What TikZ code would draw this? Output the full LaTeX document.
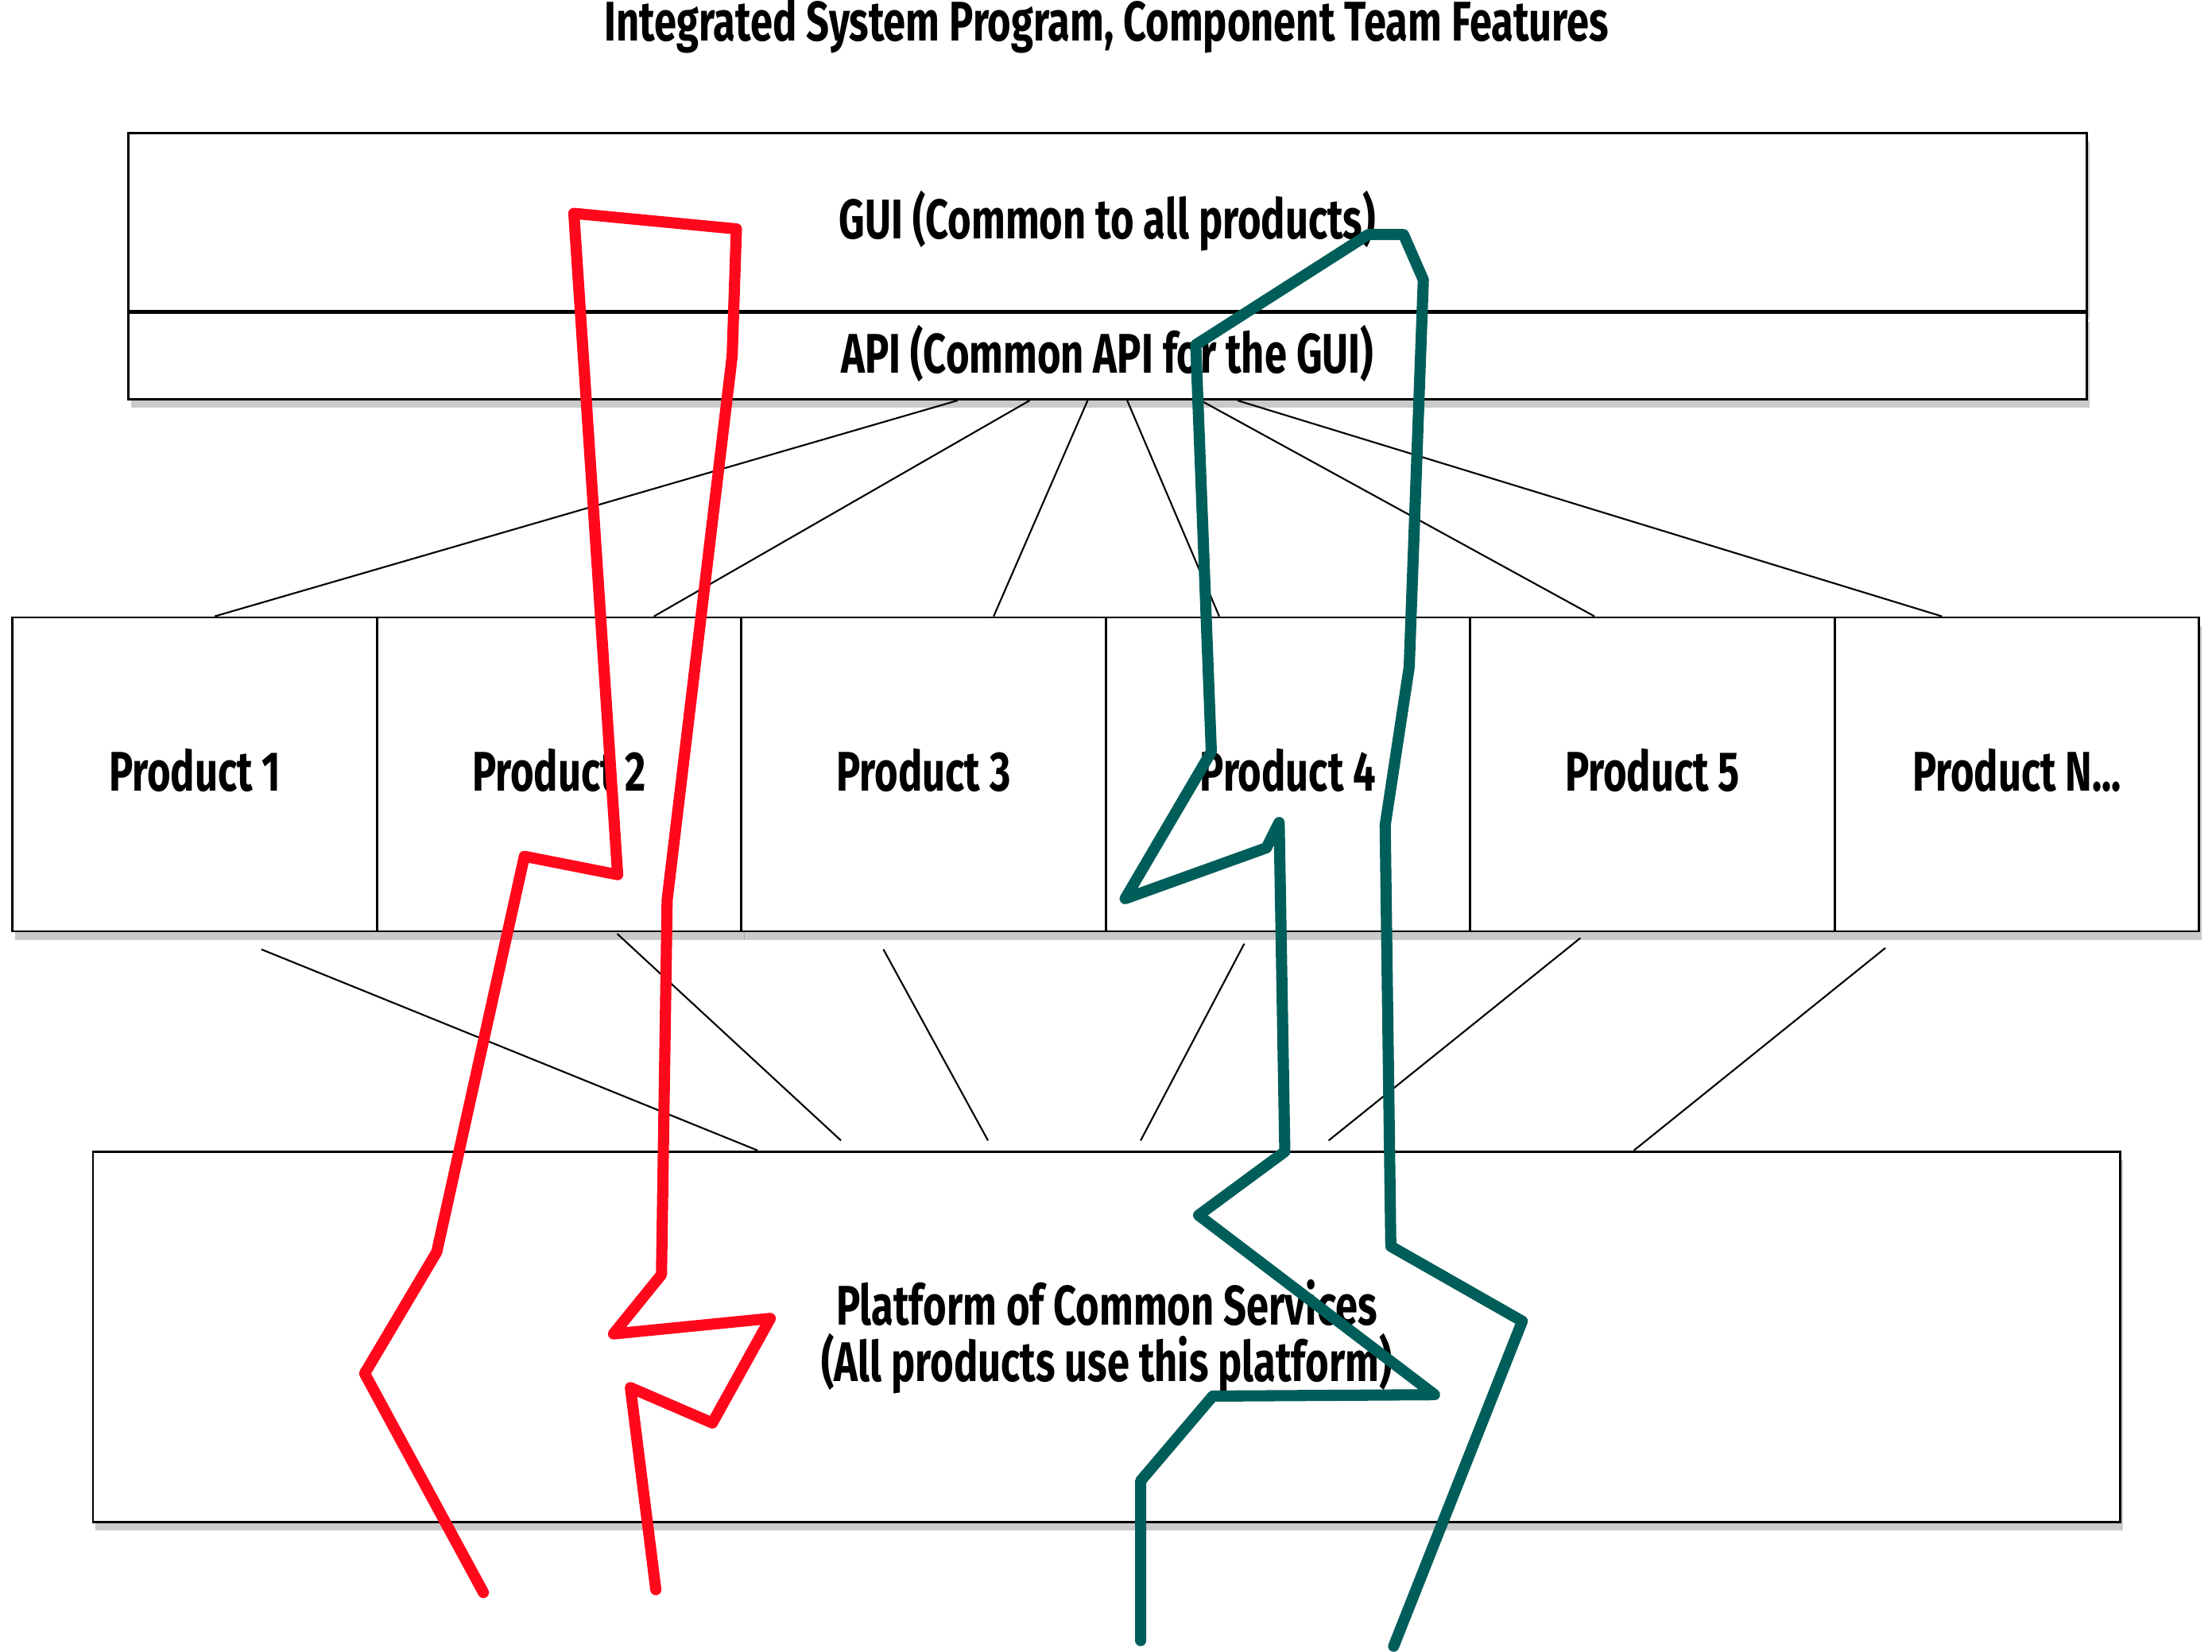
\documentclass[tikz,border=0pt]{standalone}
\usepackage{fontspec}
\newfontfamily\feltfont[FakeStretch=0.72]{Fira Sans}
\usetikzlibrary{positioning,calc,shadows}
\definecolor{featred}{RGB}{255,8,28}
\definecolor{featteal}{RGB}{0,94,90}
\def\lastprod{Product N...}

\begin{document}
\begin{tikzpicture}[x=0.017783cm,y=-0.017783cm,
  box/.style={draw, line width=0.8pt, fill=white, inner sep=0pt,
    font=\feltfont\bfseries\fontsize{20}{20}\selectfont,
    drop shadow={shadow xshift=1pt, shadow yshift=-3pt, opacity=0.35, fill=black!60}},
  oneline/.style={text height=16pt, text depth=4pt},
  link/.style={draw, line width=0.6pt},
  feature/.style={line width=4pt, line join=round, line cap=round}]
  \useasboundingbox (0,0) rectangle (1565,1169);

  % Title
  \node[font=\feltfont\bfseries\fontsize{20}{22}\selectfont, anchor=base] (title) at (783,29)
    {Integrated System Program, Component Team Features};

  % --- Common GUI and API layer ---
  \node[box, oneline, minimum width=24.63cm, minimum height=2.24cm] (gui) at (783.5,157)
    {GUI (Common to all products)};
  \node[box, oneline, minimum width=24.63cm, minimum height=1.085cm, below=0pt of gui] (api)
    {API (Common API for the GUI)};

  % --- Product row ---
  \foreach \i/\lab in {1/Product 1, 2/Product 2, 3/Product 3,
                       4/Product 4, 5/Product 5, 6/\lastprod}
    \node[box, oneline, minimum width=4.585cm, minimum height=3.948cm] (p\i)
      at ({137.9+257.8*(\i-1)},548) {\lab};

  % --- Platform layer ---
  \node[box, align=center, minimum width=25.5cm, minimum height=4.66cm] (platform)
    at (783,946) {Platform of Common Services\\(All products use this platform)};

  % API to products
  \foreach \i/\sx/\ex in {1/-106/14, 2/-55/67, 3/-14/49.5,
                          4/14/-48.7, 5/66/-41, 6/92/-53}
    \draw[link] ($(api.south)+(\sx,0)$) -- ($(p\i.north)+(\ex,0)$);

  % Products to platform (loose ends)
  \foreach \i/\sx/\sy/\ex/\ey in {1/47/12/-247/0, 2/41/1/-188/-7, 3/-28.5/12/-84/-7,
                                  4/-31/8/24/-7, 5/-51/4/157/-7, 6/-93/11/373/0}
    \draw[link] ($(p\i.south)+(\sx,\sy)$) -- ($(platform.north)+(\ex,\ey)$);

  % --- Feature threads ---
  % Red feature
  \draw[feature, featred]
    (342,1127) -- (258,972) -- (309,886) -- (371,606) -- (437,619)
    -- (406,151) -- (521,162) -- (518,252) -- (472,637) -- (468,902)
    -- (434,944) -- (545,933) -- (504,1007) -- (446,982) -- (464,1125);
  % Teal feature
  \draw[feature, featteal]
    (807,1161) -- (807,1048) -- (858,988) -- (1015,987) -- (848,860)
    -- (909,815) -- (905,582) -- (896,600) -- (796,636) -- (857,532)
    -- (846,244) -- (968,166) -- (993,166) -- (1007,198) -- (997,472)
    -- (980,584) -- (984,882) -- (1077,935) -- (986,1165);
\end{tikzpicture}
\end{document}
